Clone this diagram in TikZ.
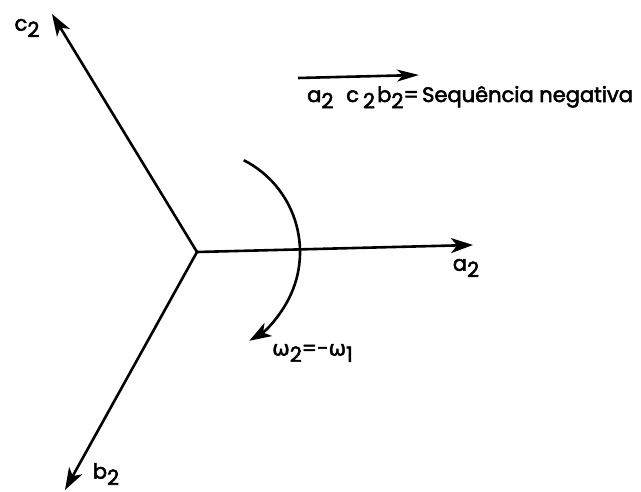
\documentclass[tikz,border=0pt]{standalone}
\usepackage{fontspec}
\setmainfont{Poppins}
\newfontfamily\dv{DejaVu Sans}
\usetikzlibrary{arrows.meta}
\newcommand{\sbt}[1]{\raisebox{-0.3em}{#1}}
\tikzset{
  vec/.style={line width=2.6pt,-{Stealth[length=22pt,width=15pt,inset=6pt]}},
  lbl/.style={font=\fontsize{21}{24}\selectfont\addfontfeature{FakeBold=2.5}, inner sep=0pt}
}
\begin{document}
\begin{tikzpicture}[x=1pt,y=1pt]
\useasboundingbox (0,0) rectangle (641,491);
\coordinate (O) at (197,239);
\coordinate (A) at (473,246);
\coordinate (C) at (52,477);
\coordinate (B) at (65,1);
\draw[vec] (O) -- (A);
\draw[vec] (O) -- (C);
\draw[vec] (O) -- (B);
\node[lbl] (la) at (466,223) {a\sbt{2}};
\node[lbl] (lc) at (27,463) {c\sbt{2}};
\node[lbl] (lb) at (106,17) {b\sbt{2}};
\draw[vec] (O) ++(63:103) arc[start angle=63, end angle=-59.5, radius=103] coordinate (W);
\node[lbl, anchor=west] (lw) at (272,138) {{\dv\addfontfeature{FakeBold=1.8} ω}\sbt{2}=-{\dv\addfontfeature{FakeBold=1.8} ω}\sbt{1}};
\coordinate (S1) at (298,413);
\coordinate (S2) at (419,416);
\draw[vec, -{Stealth[length=22pt,width=12pt,inset=6pt]}] (S1) -- (S2);
\node[lbl, anchor=base west] (sa) at (307,389) {a\sbt{2}};
\node[lbl, anchor=base west] (sc) at (346,389) {c\hspace{4pt}\sbt{2}};
\node[lbl, anchor=base west] (sb) at (377,389) {b\sbt{2}=\,Sequência negativa};
\end{tikzpicture}
\end{document}
